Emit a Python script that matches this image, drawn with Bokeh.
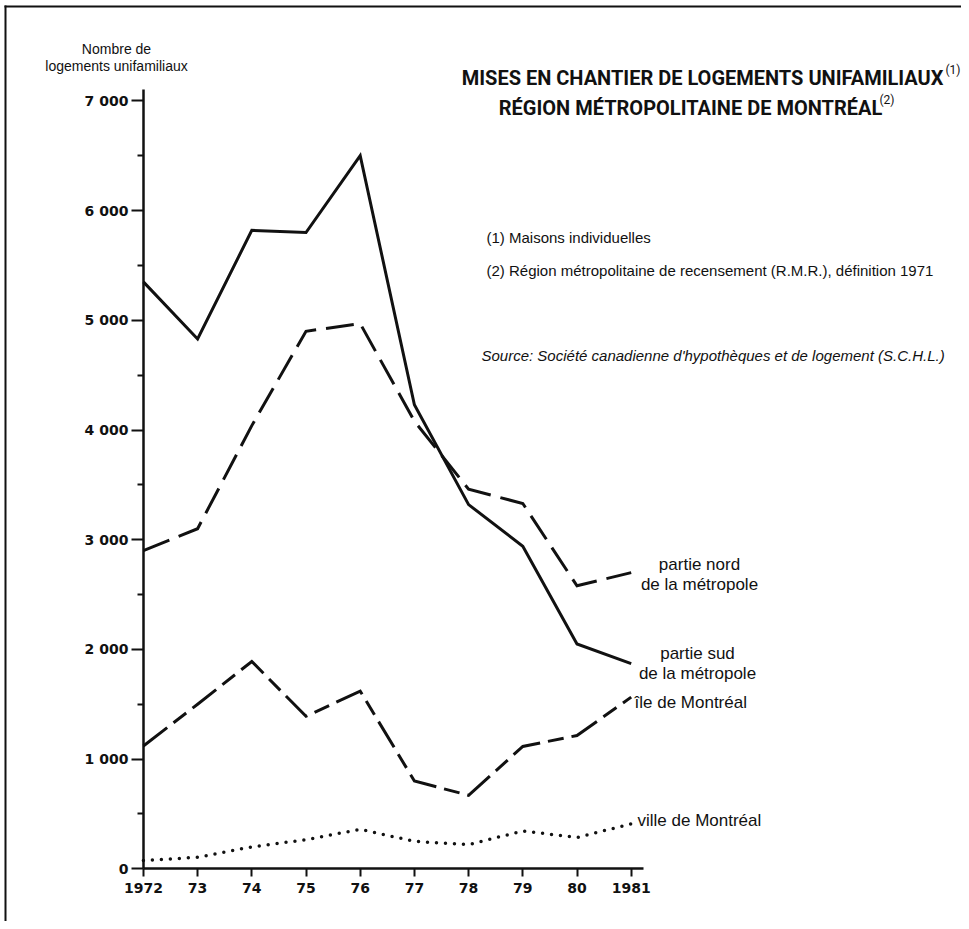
from bokeh.plotting import figure
from bokeh.models import (Range1d, FixedTicker, Label, BoxAnnotation, LinearAxis)
from bokeh.embed import file_html
from bokeh.resources import INLINE

# ---- data ----
years = [1972, 1973, 1974, 1975, 1976, 1977, 1978, 1979, 1980, 1981]
year_labels = ["1972", "73", "74", "75", "76", "77", "78", "79", "80", "1981"]
sud = [5350, 4830, 5820, 5800, 6500, 4230, 3320, 2940, 2050, 1870]
nord = [2900, 3100, 4040, 4900, 4970, 4080, 3460, 3330, 2580, 2700]
ile = [1120, 1500, 1890, 1390, 1620, 800, 670, 1115, 1215, 1565]
ville = [75, 105, 200, 265, 360, 250, 220, 345, 285, 410]
y_ticks = [0, 1000, 2000, 3000, 4000, 5000, 6000, 7000]
y_tick_labels = ["0", "1 000", "2 000", "3 000", "4 000", "5 000", "6 000", "7 000"]
y_minor = [500, 1500, 2500, 3500, 4500, 5500, 6500]

W, H = 961, 921
PX_YEAR = 54.2      # pixels per year
PX_UNIT = 0.1097    # pixels per dwelling
X0, Y0 = 142.9, 868.3  # screen position of (1972, 0)
x_start = 1972 - X0 / PX_YEAR
y_end = Y0 / PX_UNIT
p = figure(width=W, height=H, output_backend="svg", toolbar_location=None,
           x_range=Range1d(x_start, x_start + W / PX_YEAR),
           y_range=Range1d(y_end - H / PX_UNIT, y_end),
           min_border=0, x_axis_location=None, y_axis_location=None)
p.outline_line_color = None
p.background_fill_color = "white"
p.border_fill_color = "white"
p.grid.visible = False

BLACK = "#111111"
xa = LinearAxis(fixed_location=0)
ya = LinearAxis(fixed_location=1972)
p.add_layout(xa, "below")
p.add_layout(ya, "left")
xa.ticker = FixedTicker(ticks=years)
xa.major_label_overrides = {y: l for y, l in zip(years, year_labels)}
xa.bounds = (1972, 1981.22)
ya.ticker = FixedTicker(ticks=y_ticks, minor_ticks=y_minor)
ya.major_label_overrides = {v: l for v, l in zip(y_ticks, y_tick_labels)}
ya.bounds = (0, 7100)
for ax in (xa, ya):
    ax.axis_line_color = BLACK
    ax.axis_line_width = 2.5
    ax.major_tick_line_color = BLACK
    ax.major_tick_line_width = 2
    ax.major_tick_in = 0
    ax.minor_tick_in = 0
    ax.major_label_text_font = "DejaVu Sans"
    ax.major_label_text_font_style = "bold"
    ax.major_label_text_font_size = "14px"
    ax.major_label_text_color = BLACK
xa.major_tick_out = 8
xa.minor_tick_line_color = None
xa.major_label_standoff = 6
ya.major_tick_out = 12
ya.minor_tick_out = 6
ya.minor_tick_line_color = BLACK
ya.minor_tick_line_width = 2
ya.major_label_standoff = 3

# series
p.line(years, sud, line_color=BLACK, line_width=3, line_join="miter")
p.line(years, nord, line_color=BLACK, line_width=3, line_dash="28 10", line_join="miter")
p.line(years, ile, line_color=BLACK, line_width=3, line_dash="30 8 16 8", line_join="miter")
p.line(years, ville, line_color=BLACK, line_width=3.5, line_dash="0 9", line_cap="round")

def sx(px):
    return 1972 + (px - X0) / PX_YEAR

def sy(py):
    return (Y0 - py) / PX_UNIT

def lab(px, py, text, size="17px", align="left", font="Liberation Sans", style="normal"):
    p.add_layout(Label(x=sx(px), y=sy(py), text=text, text_align=align, text_baseline="middle",
                       text_font=font, text_font_size=size, text_font_style=style,
                       text_color=BLACK))

# series labels
lab(699, 564, "partie nord", align="center")
lab(699, 584, "de la métropole", align="center")
lab(697, 653, "partie sud", align="center")
lab(697, 673, "de la métropole", align="center")
lab(634, 702, "île de Montréal")
lab(637, 820, "ville de Montréal")

# y axis title
lab(116, 48, "Nombre de", size="14px", align="center")
lab(116, 65, "logements unifamiliaux", size="14px", align="center")

# title
lab(943, 77, "MISES EN CHANTIER DE LOGEMENTS UNIFAMILIAUX", size="20px", align="right",
    font="Roboto", style="bold")
lab(945, 69, "(1)", size="12px", font="Roboto")
lab(690, 107, "RÉGION MÉTROPOLITAINE DE MONTRÉAL", size="20px", align="center",
    font="Roboto", style="bold")
lab(879, 99, "(2)", size="12px", font="Roboto")

# notes
lab(486, 237, "(1)  Maisons individuelles", size="15px")
lab(486, 270, "(2)  Région métropolitaine de recensement (R.M.R.), définition 1971", size="15px")
lab(481, 355, "Source: Société canadienne d'hypothèques et de logement (S.C.H.L.)",
    size="15px", style="italic")

# page border (top and left)
p.add_layout(BoxAnnotation(left=4, right=W, top=5, bottom=7, left_units="canvas",
                           right_units="canvas", top_units="canvas", bottom_units="canvas",
                           fill_color=BLACK, fill_alpha=1, line_alpha=0))
p.add_layout(BoxAnnotation(left=4, right=6, top=5, bottom=H, left_units="canvas",
                           right_units="canvas", top_units="canvas", bottom_units="canvas",
                           fill_color=BLACK, fill_alpha=1, line_alpha=0))

open("out.html", "w").write(file_html(p, INLINE))
